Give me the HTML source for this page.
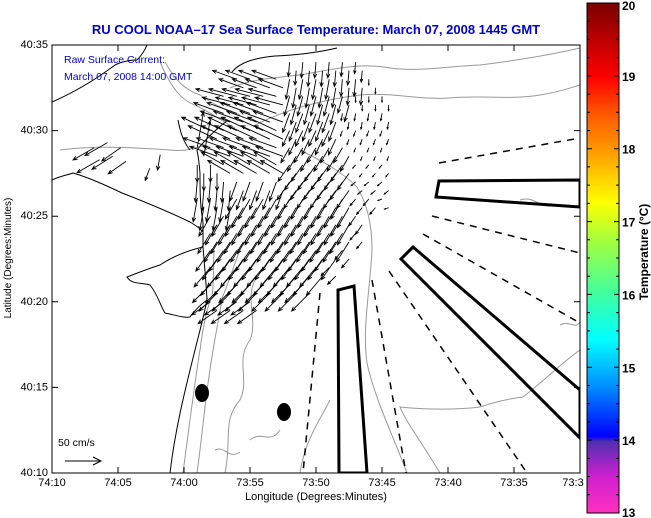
<!DOCTYPE html>
<html><head><meta charset="utf-8"><style>
html,body{margin:0;padding:0;background:#fff;}
svg{display:block;font-family:"Liberation Sans",sans-serif;}
</style></head><body>
<svg id="chart" width="651" height="518" viewBox="0 0 651 518" xmlns="http://www.w3.org/2000/svg">
<defs>
<linearGradient id="cb" x1="0" y1="0" x2="0" y2="1">
<stop offset="0" stop-color="#7a0000"/>
<stop offset="0.145" stop-color="#ff0000"/>
<stop offset="0.22" stop-color="#ff5a00"/>
<stop offset="0.29" stop-color="#ff9a00"/>
<stop offset="0.39" stop-color="#ffff00"/>
<stop offset="0.47" stop-color="#a0ff40"/>
<stop offset="0.57" stop-color="#40ffa0"/>
<stop offset="0.66" stop-color="#00ffff"/>
<stop offset="0.75" stop-color="#0090ff"/>
<stop offset="0.85" stop-color="#0000ff"/>
<stop offset="0.86" stop-color="#5030b0"/>
<stop offset="0.93" stop-color="#d020d0"/>
<stop offset="1" stop-color="#ff30c0"/>
</linearGradient>
<clipPath id="plotclip"><rect x="52" y="45" width="528" height="428"/></clipPath>
</defs>
<rect width="651" height="518" fill="#fff"/>
<text x="316" y="34" text-anchor="middle" font-size="13" font-weight="bold" fill="#0000cc">RU COOL  NOAA–17  Sea Surface Temperature:  March 07, 2008 1445 GMT</text>

<g clip-path="url(#plotclip)">
 <g fill="none" stroke="#999" stroke-width="1">
  <path d="M183,473 C190,420 195,380 200,350 C204,320 208,305 212,296 C214,285 213,270 214,250"/>
  <path d="M197,473 C203,430 205,400 210,370 C214,340 220,315 222,298 C228,285 232,270 240,250"/>
  <path d="M225,473 C232,440 222,420 240,400 C250,380 235,360 250,340 C258,320 245,300 255,280"/>
  <path d="M407,473 C395,440 375,400 367,363 C362,330 370,290 372,250 C372,220 365,200 357,187 C340,170 320,160 300,150"/>
  <path d="M440,473 C420,440 405,420 400,407 C430,410 455,410 480,407 C500,400 515,398 523,397 C545,380 565,360 580,350"/>
  <path d="M230,88 C250,80 270,78 300,75 C330,70 360,62 390,68 C420,72 450,66 480,65 C520,60 550,55 580,48"/>
  <path d="M255,125 C285,110 320,100 360,95 C390,92 420,100 450,98 C480,95 510,100 540,95 C560,92 570,88 580,85"/>
  <path d="M165,62 C175,80 185,90 200,95 C215,105 225,110 240,115"/>
  <path d="M160,62 C170,85 180,100 195,105 C210,112 220,120 235,128"/>
  <path d="M60,150 C100,145 140,148 170,150 C185,152 195,148 205,145"/>
  <path d="M300,473 C305,440 320,420 330,400 M250,440 C262,430 270,445 280,430 M215,450 C225,445 228,460 240,452 M560,325 C570,320 575,330 580,322 M520,200 C535,195 540,210 555,205"/>
 </g>
 <g fill="none" stroke="#000" stroke-width="1">
  <path d="M170,473 C175,430 185,390 195,350 C200,330 204,315 207,300 C206,280 204,260 203,247 C203,230 203,225 203,222 C200,205 200,190 200,173 C199,160 198,155 197,150"/>
  <path d="M52,180 C60,176 68,175 73,173 C90,178 105,185 122,193 C140,200 165,210 190,222 C195,225 200,228 203,232"/>
  <path d="M203,247 C190,250 175,255 160,265 C150,268 140,272 127,277 C132,285 140,282 150,285 C158,295 160,305 165,313 C175,315 183,318 190,317 C195,310 200,305 207,300"/>
  <path d="M52,102 C75,92 95,80 115,65 C125,60 135,60 137,60 C142,55 145,50 147,45"/>
  <path d="M232,72 C240,62 255,58 275,56 C300,55 320,52 337,48"/>
  <path d="M190,150 C182,140 180,130 178,120 M197,150 C205,140 215,130 228,120"/>
 </g>
 <g fill="none" stroke="#000" stroke-width="3">
  <polygon points="339,473 338,290 354,286 367,473"/>
  <polygon points="401,259 413,247 580,390 580,438"/>
  <polygon points="580,180 439,181 436,197 580,207"/>
 </g>
 <g fill="none" stroke="#000" stroke-width="1.5" stroke-dasharray="7,6">
  <line x1="439" y1="163" x2="580" y2="138"/>
  <line x1="432" y1="216" x2="580" y2="253"/>
  <line x1="423" y1="234" x2="580" y2="323"/>
  <line x1="389" y1="271" x2="527" y2="473"/>
  <line x1="372" y1="280" x2="406" y2="473"/>
  <line x1="320" y1="293" x2="303" y2="473"/>
 </g>
 <ellipse cx="202" cy="393" rx="7" ry="9" fill="#000"/>
 <ellipse cx="284" cy="412" rx="7" ry="9" fill="#000"/>
 <g id="arrows" fill="none" stroke="#000" stroke-width="0.9"></g>
</g>

<rect x="52" y="45" width="528" height="428" fill="none" stroke="#000" stroke-width="1"/>
<g id="axes" font-size="11" fill="#000"></g>
<text x="64" y="63" font-size="10.5" fill="#0000cc">Raw Surface Current:</text>
<text x="64" y="80" font-size="10.5" fill="#0000cc">March 07, 2008 14:00 GMT</text>
<text x="58" y="446" font-size="10.5">50 cm/s</text>
<g stroke="#000" fill="none"><line x1="65" y1="461" x2="101" y2="461"/><polyline points="93,457 101,461 93,465"/></g>
<text x="316" y="500" font-size="11" text-anchor="middle">Longitude (Degrees:Minutes)</text>
<text transform="translate(11,258) rotate(-90)" font-size="10" text-anchor="middle">Latitude (Degrees:Minutes)</text>

<rect x="587" y="3" width="32" height="510" fill="url(#cb)" stroke="#000"/>
<g id="cbticks"></g>
<text transform="translate(648,252) rotate(-90)" font-size="12" font-weight="bold" text-anchor="middle">Temperature (°C)</text>

<script>
const xTickLabels = ["74:10","74:05","74:00","73:55","73:50","73:45","73:40","73:35","73:3"];
const yTickLabels = ["40:10","40:15","40:20","40:25","40:30","40:35"];
const cbTickLabels = ["13","14","15","16","17","18","19","20"];
const gridLon = [8,9,10,11,12,13,14,15,16,17,18,19,20,21,22,23,24,25];
const gridLat = [24,23,22,21,20,19,18,17,16,15,14,13,12,11,10];
const speed = [
[0,0,0,0,0,0,0,0,0,0,20,22,22,22,20,16,0,0],
[0,0,0,0,0,0,36,36,36,36,28,28,28,28,24,24,8,0],
[0,0,0,0,0,40,40,40,40,40,28,28,28,28,24,8,8,8],
[0,0,0,0,0,44,44,44,44,44,28,28,28,28,10,10,10,10],
[0,0,0,0,44,44,44,44,44,44,24,24,24,24,8,8,8,8],
[0,0,0,50,40,40,40,40,40,40,24,24,24,24,24,6,6,6],
[0,0,0,24,24,36,36,36,36,36,28,28,28,28,28,6,6,6],
[0,0,0,28,28,28,28,28,28,28,30,30,30,30,30,8,8,8],
[0,0,0,32,32,32,32,32,32,32,32,32,32,32,32,12,12,6],
[0,0,0,0,32,32,32,32,32,32,32,32,32,32,32,16,0,0],
[0,0,0,0,33,33,33,33,33,33,33,33,33,33,33,12,0,0],
[0,0,0,0,35,35,35,35,35,35,35,35,35,35,16,0,0,0],
[0,0,0,0,35,35,35,35,35,35,35,35,35,16,0,0,0,0],
[0,0,0,0,35,35,35,35,35,35,35,35,0,0,0,0,0,0],
[0,0,0,0,32,32,32,32,0,0,0,0,0,0,0,0,0,0]];
const direction = [
[0,0,0,0,0,0,0,0,0,0,185,185,185,185,185,185,0,0],
[0,0,0,0,0,0,290,290,290,290,190,190,190,190,185,185,180,0],
[0,0,0,0,0,285,285,285,285,285,195,195,195,195,195,180,180,180],
[0,0,0,0,0,290,290,290,290,290,200,200,200,200,190,190,190,190],
[0,0,0,0,295,295,295,295,295,295,205,205,205,205,200,200,200,200],
[0,0,0,10,290,290,290,290,290,290,210,210,210,210,210,200,200,200],
[0,0,0,180,180,300,300,300,300,300,215,215,215,215,215,220,220,220],
[0,0,0,185,185,185,200,200,200,200,215,215,215,215,215,230,230,230],
[0,0,0,190,190,190,210,210,210,210,210,210,210,210,210,220,220,250],
[0,0,0,0,210,210,210,210,210,210,210,210,210,210,210,215,0,0],
[0,0,0,0,212,212,212,212,212,212,212,212,212,212,212,220,0,0],
[0,0,0,0,215,215,215,215,215,215,215,215,215,215,220,0,0,0],
[0,0,0,0,220,220,220,220,220,220,220,220,220,225,0,0,0,0],
[0,0,0,0,225,225,225,225,225,225,225,225,0,0,0,0,0,0],
[0,0,0,0,235,235,235,235,0,0,0,0,0,0,0,0,0,0]];
const extraLon = [3.2,4.2,5.2,3.6,4.6,5.6,7.4,8.2];
const extraLat = [19.0,19.3,19.0,18.3,18.5,18.2,17.8,18.6];
const extraSpd = [34,36,32,36,34,30,18,22];
const extraDir = [240,240,235,240,238,235,200,190];

const ns = "http://www.w3.org/2000/svg";
function xScale(lonMin){ return 52 + lonMin * 528 / 40; }
function yScale(latMin){ return 473 - latMin * 428 / 25; }
const pxPerCm = 36 / 50;
const arrowsG = document.getElementById('arrows');
function drawArrow(lon, lat, spd, dir){
  const x0 = xScale(lon), y0 = yScale(lat);
  const r = dir * Math.PI / 180;
  const L = spd * pxPerCm;
  const x1 = x0 + Math.sin(r) * L, y1 = y0 - Math.cos(r) * L;
  const h = Math.min(4.5, L * 0.3);
  const a = Math.atan2(y1 - y0, x1 - x0);
  const p = document.createElementNS(ns, 'path');
  p.setAttribute('d', `M${x0},${y0}L${x1},${y1}M${x1 - h*Math.cos(a-0.4)},${y1 - h*Math.sin(a-0.4)}L${x1},${y1}L${x1 - h*Math.cos(a+0.4)},${y1 - h*Math.sin(a+0.4)}`);
  
  
  arrowsG.appendChild(p);
}
gridLat.forEach((lat, i) => {
  gridLon.forEach((lon, j) => {
    const s = speed[i][j];
    if (s > 0) {
      drawArrow(lon, lat, s, direction[i][j]);
      drawArrow(lon + 0.5, lat - 0.5, s, direction[i][j]);
    }
  });
});
extraLon.forEach((lon, i) => drawArrow(lon, extraLat[i], extraSpd[i], extraDir[i]));

const axes = document.getElementById('axes');
xTickLabels.forEach((lab, i) => {
  const x = xScale(i * 5);
  const t = document.createElementNS(ns, 'text');
  t.setAttribute('x', i === xTickLabels.length - 1 ? x - 7 : x);
  t.setAttribute('y', 486);
  t.setAttribute('text-anchor', 'middle');
  t.textContent = lab;
  
  
  axes.appendChild(t);
  const l = document.createElementNS(ns, 'path');
  l.setAttribute('d', `M${x},473v-6M${x},45v6`);
  l.setAttribute('stroke', '#000');
  
  
  axes.appendChild(l);
});
yTickLabels.forEach((lab, i) => {
  const y = yScale(i * 5);
  const t = document.createElementNS(ns, 'text');
  t.setAttribute('x', 48);
  t.setAttribute('y', y + 3);
  t.setAttribute('text-anchor', 'end');
  t.textContent = lab;
  
  
  axes.appendChild(t);
  const l = document.createElementNS(ns, 'path');
  l.setAttribute('d', `M52,${y}h6M580,${y}h-6`);
  l.setAttribute('stroke', '#000');
  
  
  axes.appendChild(l);
});
const cbG = document.getElementById('cbticks');
function cbY(v){ return 513 - (v - 13) * 510 / 7; }
cbTickLabels.forEach((lab) => {
  const v = Number(lab);
  const t = document.createElementNS(ns, 'text');
  t.setAttribute('x', 622);
  t.setAttribute('y', Math.min(517, Math.max(10, cbY(v) + 5)));
  t.setAttribute('font-size', '12');
  t.setAttribute('font-weight', 'bold');
  t.textContent = lab;
  
  
  cbG.appendChild(t);
});
for (let k = 0; k <= 28; k++) {
  const y = cbY(13 + k * 0.25);
  const l = document.createElementNS(ns, 'path');
  const len = (k % 4 === 0) ? 5 : 3;
  l.setAttribute('d', `M587,${y}h${len}M619,${y}h-${len}`);
  l.setAttribute('stroke', '#000');
  
  
  cbG.appendChild(l);
}
</script>
</svg>
</body></html>
